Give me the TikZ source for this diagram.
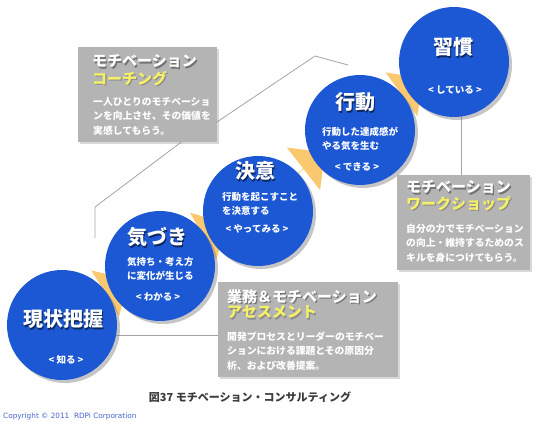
\documentclass[tikz,border=0pt]{standalone}
\usepackage{fontspec}
\setmainfont{Noto Sans CJK JP}
\newfontfamily\latinfont{DejaVu Sans}
\usetikzlibrary{shadows,calc,shapes.arrows}
\definecolor{cblue}{RGB}{28,88,212}
\definecolor{boxgray}{RGB}{180,180,180}
\definecolor{ylw}{RGB}{246,240,100}
\definecolor{arrowc}{RGB}{250,200,110}
\definecolor{linegray}{RGB}{165,165,165}
\definecolor{capgray}{RGB}{60,60,60}
\definecolor{cpblue}{RGB}{70,100,205}
\newcommand\shtxt[2]{\leavevmode\rlap{\raisebox{-1.2pt}{\kern1.2pt\textcolor{#1}{#2}}}#2}
\tikzset{
  stage/.style={circle, fill=cblue, minimum size=110pt, inner sep=0pt,
    drop shadow={opacity=0.45, shadow xshift=3pt, shadow yshift=-3pt}},
  infobox/.style={fill=boxgray, inner sep=0pt, anchor=north west,
    drop shadow={opacity=0.3, shadow xshift=2pt, shadow yshift=-2pt}},
  ctitle/.style={text=white, inner sep=0pt, font=\bfseries\fontsize{20}{22}\selectfont},
  cdesc/.style={text=white, inner sep=0pt, anchor=west, align=left, font=\bfseries\fontsize{9.5}{14}\selectfont},
  cverb/.style={text=white, inner sep=0pt, font=\bfseries\fontsize{9.5}{12}\selectfont},
  btitle/.style={text=white, inner sep=0pt, anchor=west, font=\bfseries\fontsize{15}{17}\selectfont},
  bsub/.style={text=ylw, inner sep=0pt, anchor=west, font=\bfseries\fontsize{15}{17}\selectfont},
  bbody/.style={text=white, inner sep=0pt, anchor=west, align=left, font=\bfseries\fontsize{9.8}{14.5}\selectfont},
  conn/.style={draw=linegray, line width=0.8pt},
  flowarrow/.style={single arrow, fill=arrowc, inner sep=0pt, minimum height=46pt,
    minimum width=54pt, single arrow head extend=16pt},
}
\begin{document}
\begin{tikzpicture}[x=1pt,y=-1pt]
\useasboundingbox[fill=white] (0,0) rectangle (540,422);
% stage centres
\coordinate (p1) at (62,325);
\coordinate (p2) at (160,266);
\coordinate (p3) at (258,211);
\coordinate (p4) at (360,130);
\coordinate (p5) at (454,62);
% bend points of the connectors
\coordinate (k1) at (315,56);
\coordinate (k2) at (348,65);
\coordinate (k3) at (95,238);
\coordinate (k4) at (95,207);
\coordinate (k5) at (188,137);
\coordinate (a1) at (62,335);
\coordinate (w1) at (461,62);
% boxes (positions only, drawn later)
\path (78,47) coordinate (coachnw) (397,175) coordinate (wsnw) (218,282) coordinate (asnw);
% connectors
\draw[conn] (217,122) coordinate (c0) -- (k1) -- (k2);
\draw[conn] (k3) -- (k4) -- (k5);
\draw[conn] (w1) -- (w1 |- wsnw);
\draw[conn] (a1) -- (a1 -| asnw);
% flow arrows
\node[flowarrow, rotate=31] (f1) at ($(p1)!0.5!(p2)+(-2.5,-4)$) {};
\node[flowarrow, rotate=29] (f2) at ($(p2)!0.5!(p3)+(-2.5,-4)$) {};
\node[flowarrow, rotate=38] (f3) at ($(p3)!0.5!(p4)+(-2.5,-4)$) {};
\node[flowarrow, rotate=36] (f4) at ($(p4)!0.5!(p5)+(-2.5,-4)$) {};
% stages
\node[stage] (s1) at (p1) {};
\node[stage] (s2) at (p2) {};
\node[stage] (s3) at (p3) {};
\node[stage] (s4) at (p4) {};
\node[stage] (s5) at (p5) {};
% boxes
\node[infobox, minimum width=139pt, minimum height=95pt] (coach) at (coachnw) {};
\node[infobox, minimum width=133pt, minimum height=95pt] (ws) at (wsnw) {};
\node[infobox, minimum width=180pt, minimum height=95pt] (as) at (asnw) {};
% stage texts
\node[ctitle] (t5) at (453,48) {\shtxt{cblue!45!black}{習慣}};
\node[cverb] (v5) at (455,90) {< している >};
\node[ctitle] (t4) at (355,103) {\shtxt{cblue!45!black}{行動}};
\node[cdesc] (d4) at (322,138.5) {行動した達成感が\\やる気を生む};
\node[cverb] (v4) at (357,167) {< できる >};
\node[ctitle] (t3) at (255,172) {\shtxt{cblue!45!black}{決意}};
\node[cdesc] (d3) at (222,203.5) {行動を起こすこと\\を決意する};
\node[cverb] (v3) at (257,229) {< やってみる >};
\node[ctitle] (t2) at (157,238) {\shtxt{cblue!45!black}{気づき}};
\node[cdesc] (d2) at (127,269) {気持ち・考え方\\に変化が生じる};
\node[cverb] (v2) at (158,297) {< わかる >};
\node[ctitle] (t1) at (63,320) {\shtxt{cblue!45!black}{現状把握}};
\node[cverb] (v1) at (66,360) {< 知る >};
% box texts
\node[btitle] (ct) at (92,62) {\shtxt{black!55}{モチベーション}};
\node[bsub] (cs) at (92,79) {\shtxt{black!45}{コーチング}};
\node[bbody] (cb) at (93,116) {一人ひとりのモチベーショ\\ンを向上させ、その価値を\\実感してもらう。};
\node[btitle] (wt) at (406,188) {\shtxt{black!55}{モチベーション}};
\node[bsub] (wsub) at (406,204) {\shtxt{black!45}{ワークショップ}};
\node[bbody] (wb) at (406,243) {自分の力でモチベーション\\の向上・維持するためのス\\キルを身につけてもらう。};
\node[btitle] (at) at (227,297) {\shtxt{black!55}{業務＆モチベーション}};
\node[bsub] (asub) at (227,313) {\shtxt{black!45}{アセスメント}};
\node[bbody] (ab) at (227,351) {開発プロセスとリーダーのモチベー\\ションにおける課題とその原因分\\析、および改善提案。};
% caption
\node[text=capgray, inner sep=0pt, font=\bfseries\fontsize{11}{13}\selectfont] (cap) at (250,397) {図37 モチベーション・コンサルティング};
\node[text=cpblue, inner sep=0pt, anchor=west, font=\latinfont\fontsize{7.3}{9}\selectfont] (copy) at (3,416) {Copyright © 2011\ \ RDPi Corporation};
\end{tikzpicture}
\end{document}
